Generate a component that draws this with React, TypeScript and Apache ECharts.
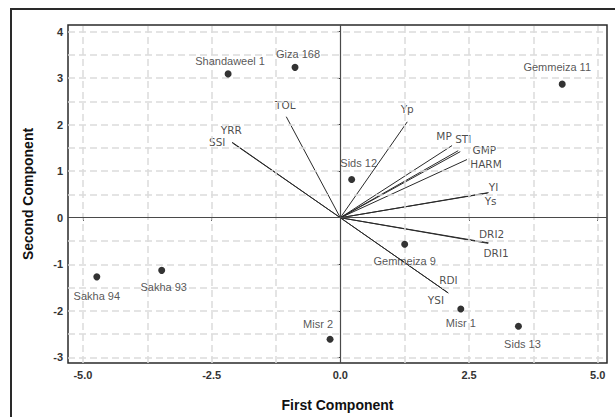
import React, { useEffect, useRef } from "react";
import * as echarts from "echarts";

// Genotype scores (PC1, PC2)
const genotypes = ["Shandaweel 1", "Giza 168", "Gemmeiza 11", "Sids 12", "Sakha 94", "Sakha 93", "Gemmeiza 9", "Misr 1", "Sids 13", "Misr 2"];
const pc1 = [-2.18, -0.88, 4.31, 0.22, -4.73, -3.47, 1.25, 2.34, 3.46, -0.2];
const pc2 = [3.09, 3.23, 2.87, 0.82, -1.27, -1.13, -0.57, -1.96, -2.33, -2.61];
const genotypeLabelOffsets = [[2, -13], [3, -13], [-5, -17], [7, -17], [0, 19], [2, 17], [0, 17], [0, 14], [4, 18], [-12, -15]];

// Trait loadings (vectors from origin)
const traits = ["TOL", "SSI", "YRR", "Yp", "MP", "STI", "GMP", "HARM", "YI", "Ys", "DRI2", "DRI1", "RDI", "YSI"];
const load1 = [-1.05, -2.1, -2.1, 1.3, 2.17, 2.29, 2.33, 2.46, 2.88, 2.86, 2.88, 2.87, 2.1, 2.09];
const load2 = [2.17, 1.61, 1.62, 2.06, 1.55, 1.44, 1.42, 1.25, 0.54, 0.53, -0.54, -0.55, -1.62, -1.61];
const traitLabelOffsets = [[-1, -12], [-15, -1], [-1, -12], [0, -13], [-8, -10], [5, -12], [24, -2], [19, 4], [5, -6], [3, 8], [3, -9], [8, 10], [0, -13], [-12, 7]];

// Axes
const xTicks = [-5, -2.5, 0, 2.5, 5];
const yTicks = [-3, -2, -1, 0, 1, 2, 3, 4];
const xGrid = [-5, -3.75, -2.5, -1.25, 1.25, 2.5, 3.75, 5];
const yGrid = [-3, -2.5, -2, -1.5, -1, -0.5, 0.5, 1, 1.5, 2, 2.5, 3, 3.5, 4];
const xRange = [-5.29, 5.18];
const yRange = [-3.12, 4.14];

export default function App() {
  const ref = useRef<HTMLDivElement>(null);
  useEffect(() => {
    if (!ref.current) return;
    const chart = echarts.init(ref.current, undefined, { renderer: "svg" });
    const gridStyle = { color: "#dcdcdc", width: 1.5, type: [7, 4] as any };
    const zeroStyle = { color: "#4a4a4a", width: 1.2, type: "solid" as any };
    chart.setOption({
      animation: false,
      backgroundColor: "#fff",
      graphic: [
        {
          type: "rect",
          shape: { x: 11, y: 9, width: 700, height: 500 },
          style: { fill: "none", stroke: "#2a2a2a", lineWidth: 2 },
          silent: true,
        },
      ],
      grid: { left: 68, top: 25, width: 539, height: 338, show: true, borderColor: "#2a2a2a", borderWidth: 1.5, backgroundColor: "transparent" },
      xAxis: {
        type: "value",
        min: xRange[0],
        max: xRange[1],
        name: "First Component",
        nameLocation: "middle",
        nameGap: 35,
        nameTextStyle: { fontFamily: "Liberation Sans", fontWeight: "bold", fontSize: 14, color: "#111" },
        splitLine: { show: false },
        axisLine: { show: false },
        axisTick: { show: true, customValues: xTicks, length: 3, lineStyle: { color: "#333" } },
        axisLabel: {
          customValues: xTicks,
          formatter: (v: number) => v.toFixed(1),
          fontFamily: "Liberation Sans",
          fontWeight: "bold",
          fontSize: 11,
          color: "#333",
          margin: 6,
        },
      },
      yAxis: {
        type: "value",
        min: yRange[0],
        max: yRange[1],
        name: "Second Component",
        nameLocation: "middle",
        nameGap: 33,
        nameTextStyle: { fontFamily: "Liberation Sans", fontWeight: "bold", fontSize: 14, color: "#111" },
        splitLine: { show: false },
        axisLine: { show: false },
        axisTick: { show: true, customValues: yTicks, length: 3, lineStyle: { color: "#333" } },
        axisLabel: {
          customValues: yTicks,
          formatter: (v: number) => String(v),
          fontFamily: "Liberation Sans",
          fontWeight: "bold",
          fontSize: 11,
          color: "#333",
          margin: 5,
        },
      },
      series: [
        {
          type: "line",
          data: [[0, 0]],
          showSymbol: false,
          symbol: "none",
          lineStyle: { opacity: 0 },
          silent: true,
          z: 1,
          markLine: {
            silent: true,
            symbol: "none",
            animation: false,
            label: { show: false },
            lineStyle: gridStyle,
            data: [
              ...xGrid.map((v) => ({ xAxis: v, lineStyle: gridStyle })),
              ...yGrid.map((v) => ({ yAxis: v, lineStyle: gridStyle })),
              { xAxis: 0, lineStyle: zeroStyle },
              { yAxis: 0, lineStyle: zeroStyle },
            ],
          },
        },
        {
          type: "lines",
          coordinateSystem: "cartesian2d",
          silent: true,
          z: 3,
          lineStyle: { color: "#2a2a2a", width: 1, opacity: 1 },
          data: traits.map((t, i) => ({ name: t, coords: [[0, 0], [load1[i], load2[i]]] })),
        },
        {
          type: "scatter",
          symbolSize: 0,
          silent: true,
          z: 4,
          data: traits.map((t, i) => ({
            name: t,
            value: [load1[i], load2[i]],
            label: { offset: traitLabelOffsets[i] },
          })),
          label: {
            show: true,
            position: "inside",
            formatter: (p: any) => p.name,
            fontFamily: "DejaVu Sans",
            fontSize: 10.5,
            color: "#1a1a1a",
          },
        },
        {
          type: "scatter",
          symbol: "circle",
          symbolSize: 7,
          silent: true,
          z: 5,
          itemStyle: { color: "#000" },
          data: genotypes.map((g, i) => ({
            name: g,
            value: [pc1[i], pc2[i]],
            label: { offset: genotypeLabelOffsets[i] },
          })),
          label: {
            show: true,
            position: "inside",
            formatter: (p: any) => p.name,
            fontFamily: "Liberation Sans",
            fontSize: 11,
            color: "#2a2a2a",
          },
        },
      ],
    });
    return () => chart.dispose();
  }, []);
  return <div ref={ref} style={{ position: "absolute", left: 0, top: 0, width: 615, height: 417 }} />;
}
